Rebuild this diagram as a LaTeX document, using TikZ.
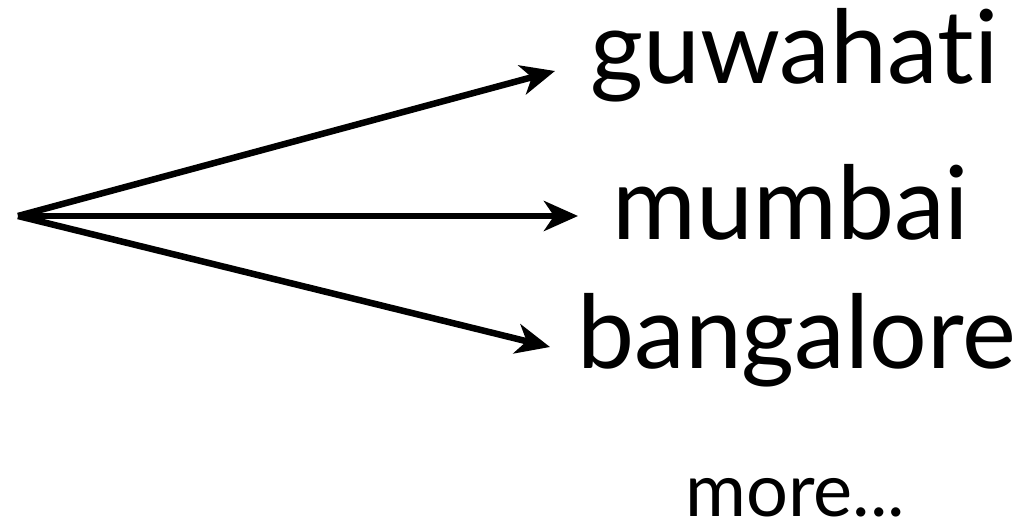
\documentclass[tikz,border=0pt]{standalone}
\usepackage{fontspec}
\setmainfont[Ligatures=NoCommon]{Lato}
\usetikzlibrary{arrows.meta}
\begin{document}
\begin{tikzpicture}[x=1pt,y=-1pt,
  conn/.style={line width=6.5pt,-{Stealth[length=34pt,width=30pt,inset=10pt]}},
  city/.style={anchor=base west,inner sep=0pt,font=\fontsize{102}{106}\selectfont},
  morestyle/.style={anchor=base west,inner sep=0pt,text depth=0pt,font=\fontsize{74}{78}\selectfont}]
\useasboundingbox (0,0) rectangle (1025,529);
\coordinate (o) at (18,216);
\coordinate (tg) at (555,71);
\coordinate (tm) at (578,216);
\coordinate (tb) at (550,347);
\node[city] (g) at (590,84) {guwahati};
\node[city] (m) at (612,240) {mumbai};
\node[city] (b) at (577,368) {bangalore};
\node[morestyle] (more) at (685,516) {more...};
\draw[conn] (o) -- (tg);
\draw[conn] (o) -- (tm);
\draw[conn] (o) -- (tb);
\end{tikzpicture}
\end{document}
